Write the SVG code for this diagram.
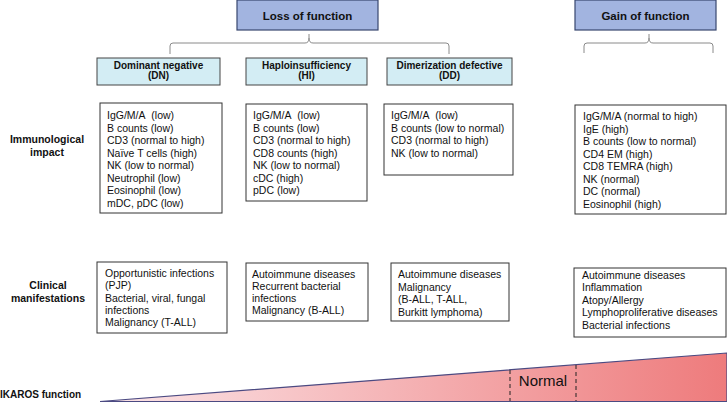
<svg xmlns="http://www.w3.org/2000/svg" width="727" height="404" viewBox="0 0 727 404">
<defs>
<linearGradient id="grad" x1="100" y1="0" x2="727" y2="0" gradientUnits="userSpaceOnUse">
<stop offset="0" stop-color="#fbe6e9"/>
<stop offset="1" stop-color="#ee7b7c"/>
</linearGradient>
</defs>
<style>
text{font-family:"Liberation Sans",Arial,sans-serif;fill:#111}
.hdr{fill:#a2b4e0;stroke:#38466e;stroke-width:1.2}
.sub{fill:#d3edf4;stroke:#444;stroke-width:1}
.box{fill:#fff;stroke:#333;stroke-width:1}
.brk{fill:none;stroke:#8a8a8a;stroke-width:1}
.ht{font-size:11.5px;font-weight:bold;text-anchor:middle}
.st{font-size:10px;font-weight:bold;text-anchor:middle}
.bt{font-size:10.5px}
.lbl{font-size:10.5px;font-weight:bold;text-anchor:middle}
</style>
<rect width="727" height="404" fill="#fff"/>

<g id="loss">
<rect class="hdr" x="237" y="0" width="141" height="30"/>
<text class="ht" x="307.5" y="20">Loss of function</text>
</g>
<g id="gain">
<rect class="hdr" x="575" y="0" width="141" height="30"/>
<text class="ht" x="645.5" y="20">Gain of function</text>
</g>

<g id="connectors">
<path class="brk" d="M170,54 V46 Q170,43 173,43 H305 Q309,43 309,38 V34 M309,38 Q309,43 313,43 H446 Q449,43 449,46 V54"/>
<path class="brk" d="M584,53 V46 Q584,43 587,43 H645 Q649,43 649,38 V34 M649,38 Q649,43 653,43 H710 Q713,43 713,46 V53"/>
</g>

<g id="dn">
<rect class="sub" x="97" y="58" width="123" height="27"/>
<text class="st" x="158.5" y="68.5">Dominant negative</text>
<text class="st" x="158.5" y="79">(DN)</text>
</g>
<g id="hi">
<rect class="sub" x="246" y="58" width="121" height="27"/>
<text class="st" x="306.5" y="68.5">Haploinsufficiency</text>
<text class="st" x="306.5" y="79">(HI)</text>
</g>
<g id="dd">
<rect class="sub" x="387" y="58" width="125" height="27"/>
<text class="st" x="449.5" y="68.5">Dimerization defective</text>
<text class="st" x="449.5" y="79">(DD)</text>
</g>

<g id="row-immuno">
<text class="lbl" x="47" y="143">Immunological</text>
<text class="lbl" x="47" y="155.5">impact</text>
</g>
<g id="row-clinical">
<text class="lbl" x="48" y="289">Clinical</text>
<text class="lbl" x="48" y="301.5">manifestations</text>
</g>

<g id="dn-immuno">
<rect class="box" x="100" y="103" width="122" height="110"/>
<text class="bt" x="107" y="119">IgG/M/A&#160; (low)</text>
<text class="bt" x="107" y="131.5">B counts (low)</text>
<text class="bt" x="107" y="144">CD3 (normal to high)</text>
<text class="bt" x="107" y="156.5">Naïve T cells (high)</text>
<text class="bt" x="107" y="169">NK (low to normal)</text>
<text class="bt" x="107" y="181.5">Neutrophil (low)</text>
<text class="bt" x="107" y="194">Eosinophil (low)</text>
<text class="bt" x="107" y="206.5">mDC, pDC (low)</text>
</g>
<g id="hi-immuno">
<rect class="box" x="246" y="104" width="121" height="97"/>
<text class="bt" x="253" y="119">IgG/M/A&#160; (low)</text>
<text class="bt" x="253" y="131.5">B counts (low)</text>
<text class="bt" x="253" y="144">CD3 (normal to high)</text>
<text class="bt" x="253" y="156.5">CD8 counts (high)</text>
<text class="bt" x="253" y="169">NK (low to normal)</text>
<text class="bt" x="253" y="181.5">cDC (high)</text>
<text class="bt" x="253" y="194">pDC (low)</text>
</g>
<g id="dd-immuno">
<rect class="box" x="384" y="104" width="129" height="71"/>
<text class="bt" x="391" y="119">IgG/M/A&#160; (low)</text>
<text class="bt" x="391" y="131.5">B counts (low to normal)</text>
<text class="bt" x="391" y="144">CD3 (normal to high)</text>
<text class="bt" x="391" y="156.5">NK (low to normal)</text>
</g>
<g id="gof-immuno">
<rect class="box" x="575" y="105" width="151" height="109"/>
<text class="bt" x="583" y="120">IgG/M/A (normal to high)</text>
<text class="bt" x="583" y="132.5">IgE (high)</text>
<text class="bt" x="583" y="145">B counts (low to normal)</text>
<text class="bt" x="583" y="157.5">CD4 EM (high)</text>
<text class="bt" x="583" y="170">CD8 TEMRA (high)</text>
<text class="bt" x="583" y="182.5">NK (normal)</text>
<text class="bt" x="583" y="195">DC (normal)</text>
<text class="bt" x="583" y="207.5">Eosinophil (high)</text>
</g>

<g id="dn-clinical">
<rect class="box" x="97" y="262" width="130" height="71"/>
<text class="bt" x="105" y="277">Opportunistic infections</text>
<text class="bt" x="105" y="289.3">(PJP)</text>
<text class="bt" x="105" y="301.6">Bacterial, viral, fungal</text>
<text class="bt" x="105" y="314">infections</text>
<text class="bt" x="105" y="326.3">Malignancy (T-ALL)</text>
</g>
<g id="hi-clinical">
<rect class="box" x="246" y="263" width="122" height="58"/>
<text class="bt" x="252" y="277.5">Autoimmune diseases</text>
<text class="bt" x="252" y="289.8">Recurrent bacterial</text>
<text class="bt" x="252" y="302.1">infections</text>
<text class="bt" x="252" y="314.4">Malignancy (B-ALL)</text>
</g>
<g id="dd-clinical">
<rect class="box" x="391" y="263" width="118" height="58"/>
<text class="bt" x="398" y="278">Autoimmune diseases</text>
<text class="bt" x="398" y="290.5">Malignancy</text>
<text class="bt" x="398" y="303">(B-ALL, T-ALL,</text>
<text class="bt" x="398" y="315.5">Burkitt lymphoma)</text>
</g>
<g id="gof-clinical">
<rect class="box" x="574" y="268" width="152" height="69"/>
<text class="bt" x="582" y="278.5">Autoimmune diseases</text>
<text class="bt" x="582" y="291">Inflammation</text>
<text class="bt" x="582" y="303.5">Atopy/Allergy</text>
<text class="bt" x="582" y="316">Lymphoproliferative diseases</text>
<text class="bt" x="582" y="328.5">Bacterial infections</text>
</g>

<g id="ikaros">
<polygon points="100,401.5 727,353 727,401.5" fill="url(#grad)" stroke="#4b4a82" stroke-width="1.2"/>
<line x1="510" y1="370" x2="510" y2="401" stroke="#222" stroke-width="1" stroke-dasharray="4,3"/>
<line x1="576" y1="365" x2="576" y2="401" stroke="#222" stroke-width="1" stroke-dasharray="4,3"/>
<text x="543" y="386" font-size="15" text-anchor="middle">Normal</text>
<text x="0" y="398" font-size="10" font-weight="bold">IKAROS function</text>
</g>
</svg>
